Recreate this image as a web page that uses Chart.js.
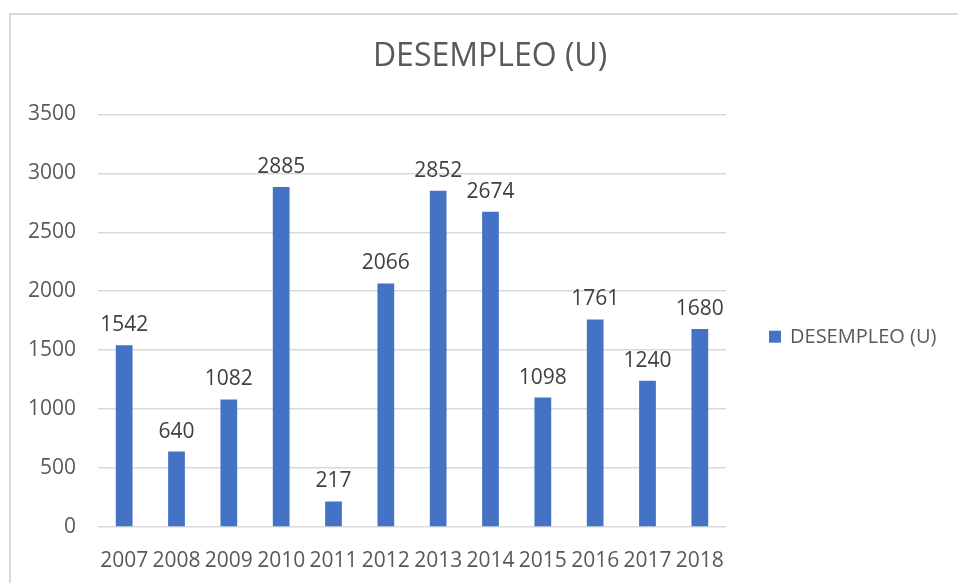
<!DOCTYPE html>
<html>
<head>
<meta charset="utf-8">
<script src="https://cdn.jsdelivr.net/npm/chart.js@4.4.1/dist/chart.umd.min.js"></script>
<style>
  html, body { margin: 0; padding: 0; background: #fff; overflow: hidden; }
  #wrap { position: relative; width: 958px; height: 583px; }
  #frame {
    position: absolute; left: 9px; top: 13px; width: 1200px; height: 1200px;
    border: 2px solid #D9D9D9; pointer-events: none; box-sizing: border-box;
  }
</style>
</head>
<body>
<div id="wrap">
  <canvas id="chart"></canvas>
  <div id="frame"></div>
</div>
<script>
// ── Data ──────────────────────────────────────────────────────
const years   = ['2007', '2008', '2009', '2010', '2011', '2012', '2013', '2014', '2015', '2016', '2017', '2018'];
const desempleo = [1542, 640, 1082, 2885, 217, 2066, 2852, 2674, 1098, 1761, 1240, 1680];
const seriesName = 'DESEMPLEO (U)';
const yMax  = 3500;
const yStep = 500;

const BLUE = '#4472C4';
const FONT = "'Open Sans', sans-serif";

// ── Value labels above each bar ───────────────────────────────
const valueLabels = {
  id: 'valueLabels',
  afterDatasetsDraw(chart) {
    const { ctx } = chart;
    const meta = chart.getDatasetMeta(0);
    ctx.save();
    ctx.font = `21px ${FONT}`;
    ctx.fillStyle = '#404040';
    ctx.textAlign = 'center';
    ctx.textBaseline = 'alphabetic';
    meta.data.forEach((bar, i) => {
      ctx.fillText(String(desempleo[i]), bar.x, bar.y - 14);
    });
    ctx.restore();
  }
};

// ── Legend on the right (square + name) ───────────────────────
const sideLegend = {
  id: 'sideLegend',
  afterDraw(chart) {
    const { ctx, chartArea } = chart;
    const x = chartArea.right + 43;
    const y = (chartArea.top + chartArea.bottom) / 2 + 16;
    ctx.save();
    ctx.fillStyle = BLUE;
    ctx.fillRect(x, y - 6, 12, 12);
    ctx.font = `20px ${FONT}`;
    ctx.fillStyle = '#595959';
    ctx.textAlign = 'left';
    ctx.textBaseline = 'middle';
    ctx.fillText(seriesName, x + 21, y + 1);
    ctx.restore();
  }
};

new Chart(document.getElementById('chart'), {
  type: 'bar',
  data: {
    labels: years,
    datasets: [{
      label: seriesName,
      data: desempleo,
      backgroundColor: BLUE,
      borderWidth: 0,
      categoryPercentage: 1,
      barPercentage: 0.32,
      yAxisID: 'y',
    }]
  },
  options: {
    responsive: true,
    maintainAspectRatio: false,
    animation: false,
    devicePixelRatio: 1,
    layout: { padding: { top: 14, left: 22, right: 0, bottom: 0 } },
    plugins: {
      legend: { display: false },
      tooltip: { enabled: false },
      title: {
        display: true,
        text: seriesName,
        color: '#595959',
        font: { family: FONT, size: 32, weight: 'normal' },
        padding: { top: 24, bottom: 38 },
      }
    },
    scales: {
      x: {
        grid: { display: false },
        border: { display: false },
        ticks: {
          color: '#595959',
          font: { family: FONT, size: 21 },
          autoSkip: false,
          maxRotation: 0,
          minRotation: 0,
          padding: 13,
        },
        afterFit: (s) => { s.height = 56; },
      },
      y: {
        min: 0,
        max: yMax,
        grid: { color: '#D9D9D9', lineWidth: 1.5, drawTicks: false },
        border: { display: false },
        ticks: {
          stepSize: yStep,
          color: '#595959',
          font: { family: FONT, size: 21 },
          padding: 22,
          callback: (v) => String(v),
        },
        afterFit: (s) => { s.width = 76; },
      },
      // empty right-hand axis that reserves room for the legend
      side: {
        position: 'right',
        display: true,
        grid: { display: false, drawTicks: false },
        border: { display: false },
        ticks: { display: false },
        afterFit: (s) => { s.width = 232; },
      }
    }
  },
  plugins: [valueLabels, sideLegend]
});
</script>
</body>
</html>
